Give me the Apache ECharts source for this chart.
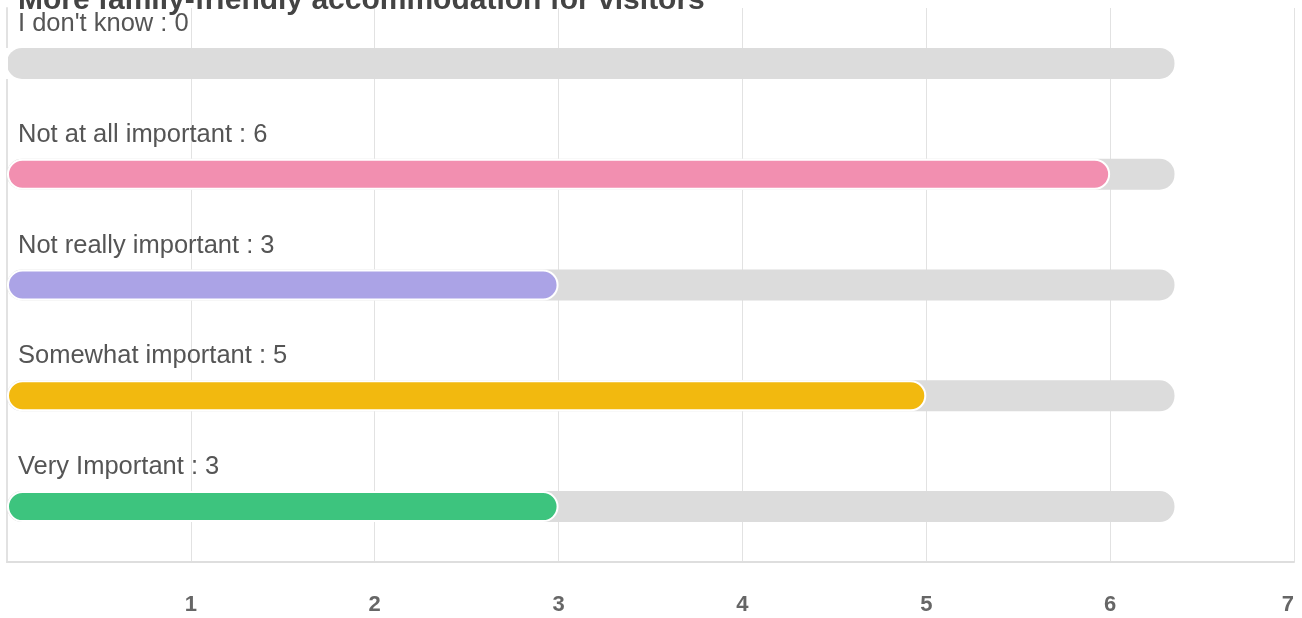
<!DOCTYPE html>
<html>
<head>
<meta charset="utf-8">
<script src="https://cdn.jsdelivr.net/npm/echarts@6/dist/echarts.min.js"></script>
<style>
  html, body { margin: 0; padding: 0; background: #fff; }
  #chart { width: 1302px; height: 618px; }
</style>
</head>
<body>
<div id="chart"></div>
<script>
// answers and counts, top to bottom
var categories = ["I don't know", 'Not at all important', 'Not really important', 'Somewhat important', 'Very Important'];
var counts = [0, 6, 3, 5, 3];
var barColors = ['#f28fb0', '#f28fb0', '#aba3e6', '#f2b90f', '#3dc47e'];
var trackValue = 6.35; // grey track length behind each bar
var tickLabels = ['', '1', '2', '3', '4', '5', '6', '7'];

var trackData = categories.map(function () { return trackValue; });
var barData = counts.map(function (v, i) {
    return { value: v, itemStyle: { color: barColors[i] } };
});

var option = {
    animation: false,
    title: {
        text: 'More family-friendly accommodation for visitors',
        left: 13,
        top: -19,
        textStyle: {
            color: '#444',
            fontSize: 30,
            fontWeight: 'bold',
            fontFamily: 'Liberation Sans, Arial, sans-serif'
        }
    },
    grid: { left: 7, right: 8, top: 8, bottom: 56 },
    xAxis: {
        type: 'value',
        min: 0,
        max: 7,
        interval: 1,
        axisLine: { show: true, lineStyle: { color: '#dedede', width: 2 } },
        axisTick: { show: false },
        splitLine: { lineStyle: { color: '#e2e2e2' } },
        axisLabel: {
            margin: 32,
            color: '#666',
            fontSize: 22,
            fontWeight: 'bold',
            fontFamily: 'Liberation Sans, Arial, sans-serif',
            alignMaxLabel: 'right',
            formatter: function (v) { return tickLabels[v] || ''; }
        }
    },
    yAxis: {
        type: 'category',
        inverse: true,
        data: categories,
        axisLabel: { show: false },
        axisTick: { show: false },
        axisLine: { lineStyle: { color: '#e2e2e2', width: 2 } }
    },
    series: [
        {
            name: 'track',
            type: 'bar',
            barWidth: 31,
            silent: true,
            data: trackData,
            itemStyle: { color: '#dcdcdc', borderRadius: 15 },
            label: {
                show: true,
                position: [11, -24],
                align: 'left',
                verticalAlign: 'middle',
                color: '#555',
                fontSize: 25.5,
                fontFamily: 'Liberation Sans, Arial, sans-serif',
                formatter: function (p) { return categories[p.dataIndex] + ' : ' + counts[p.dataIndex]; }
            },
            z: 1
        },
        {
            name: 'count',
            type: 'bar',
            barWidth: 31,
            barGap: '-100%',
            data: barData,
            itemStyle: { borderColor: '#fff', borderWidth: 2, borderRadius: 15 },
            z: 2
        }
    ]
};

var echart = echarts.init(document.getElementById('chart'));
echart.setOption(option);
</script>
</body>
</html>
